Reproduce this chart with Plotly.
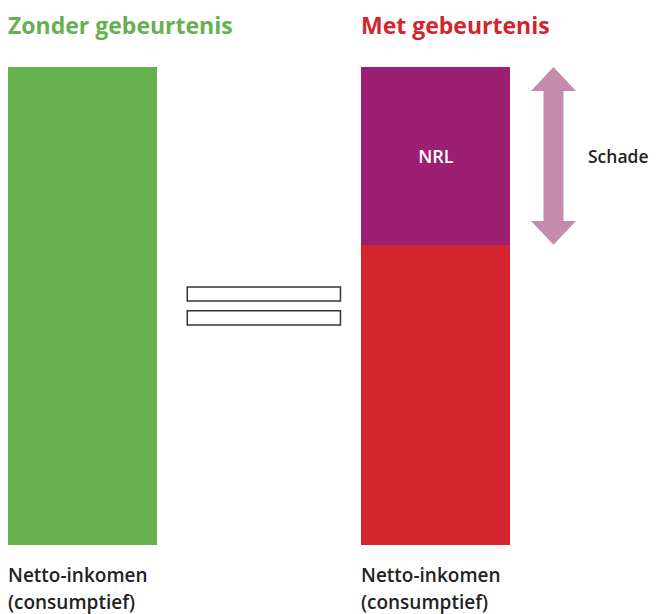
import plotly.graph_objects as go

# Data
scenarios = ["Zonder gebeurtenis", "Met gebeurtenis"]
netto_inkomen = [100, 62.8]   # Netto-inkomen (consumptief)
nrl = [0, 37.2]               # NRL segment
bottom_label = ["Netto-inkomen", "(consumptief)"]
nrl_label = "NRL"
schade_label = "Schade"

GREEN = "#66b04f"
RED = "#d3252b"
PURPLE = "#9c1f72"
PINK = "#c48bad"
DARK = "#222222"
FONT = "Open Sans"

xpos = [0, 1]
bw = 0.4215
XR = [-0.2107, 1.6224]


def to_paper(x):
    return (x - XR[0]) / (XR[1] - XR[0])


fig = go.Figure()
fig.add_bar(x=xpos, y=netto_inkomen, width=bw, marker=dict(color=[GREEN, RED], line_width=0),
            hoverinfo="skip", showlegend=False)
fig.add_bar(x=[xpos[1]], y=[nrl[1]], width=bw, marker=dict(color=PURPLE, line_width=0),
            text=[nrl_label], textposition="inside", insidetextanchor="middle",
            textfont=dict(color="white", size=18, family=FONT, weight=600),
            hoverinfo="skip", showlegend=False)

# Double-headed arrow showing "Schade" (from top of netto-inkomen to top of NRL)
ax = 1.3324
y_lo = netto_inkomen[1]
y_hi = netto_inkomen[1] + nrl[1]
sw = 0.0283   # half shaft width
hw = 0.0636   # half head width
hl = 5.0      # head length in data units
path = (f"M {ax},{y_hi} L {ax+hw},{y_hi-hl} L {ax+sw},{y_hi-hl} L {ax+sw},{y_lo+hl} "
        f"L {ax+hw},{y_lo+hl} L {ax},{y_lo} L {ax-hw},{y_lo+hl} L {ax-sw},{y_lo+hl} "
        f"L {ax-sw},{y_hi-hl} L {ax-hw},{y_hi-hl} Z")
fig.add_shape(type="path", path=path, fillcolor=PINK, line_width=0, layer="above")

fig.add_annotation(x=ax + 0.185, y=(y_lo + y_hi) / 2, text=schade_label, showarrow=False,
                   xanchor="center", yanchor="middle",
                   font=dict(size=17.5, color=DARK, family=FONT, weight=600))

# Equals sign
eq_x0, eq_x1 = 0.2964, 0.7298
for ya, yb in [(51.05, 53.97), (46.03, 49.0)]:
    fig.add_shape(type="rect", x0=eq_x0, x1=eq_x1, y0=ya, y1=yb,
                  line=dict(color="#333333", width=1.5), fillcolor="white")

# Titles and bottom labels
for xi, name, col in zip(xpos, scenarios, [GREEN, RED]):
    px = to_paper(xi - bw / 2)
    fig.add_annotation(x=px, y=1.0879, xref="paper", yref="paper", text=f"<b>{name}</b>",
                       showarrow=False, xanchor="left", yanchor="middle", xshift=-2,
                       font=dict(size=23, color=col, family=FONT))
    for line, py in zip(bottom_label, [-0.0628, -0.1185]):
        fig.add_annotation(x=px, y=py, xref="paper", yref="paper", text=line,
                           showarrow=False, xanchor="left", yanchor="middle", align="left",
                           xshift=-2,
                           font=dict(size=19, color=DARK, family=FONT, weight=600))

fig.update_layout(
    width=648, height=606,
    margin=dict(l=0, r=0, t=59, b=69),
    barmode="stack",
    plot_bgcolor="white", paper_bgcolor="white",
    xaxis=dict(range=XR, visible=False, fixedrange=True),
    yaxis=dict(range=[0, 100], visible=False, fixedrange=True),
    font=dict(family=FONT),
)

fig.write_html("out.html")
